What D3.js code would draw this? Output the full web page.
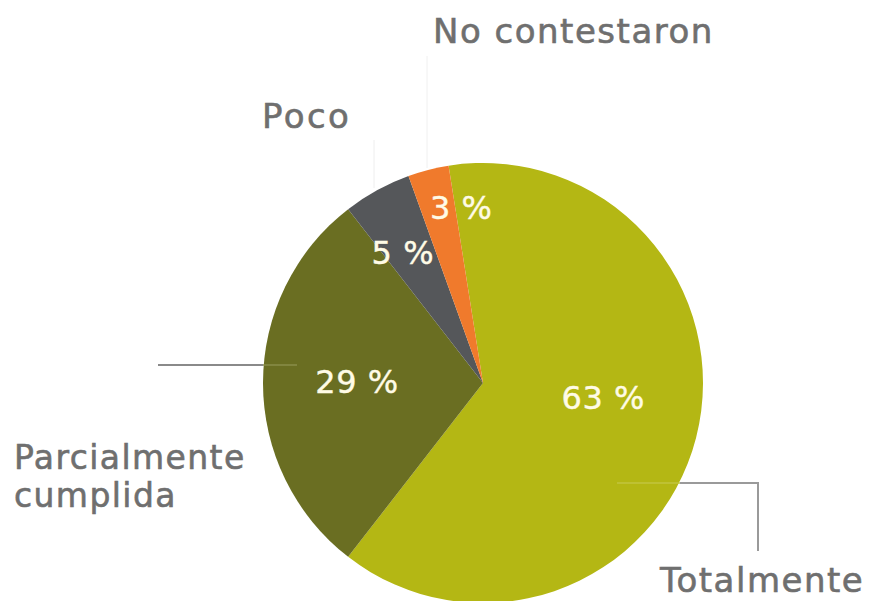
<!DOCTYPE html>
<html>
<head>
<meta charset="utf-8">
<script src="https://cdnjs.cloudflare.com/ajax/libs/d3/7.8.5/d3.min.js"></script>
<style>
  body { margin: 0; background: #fff; }
  svg text { font-family: "DejaVu Sans", sans-serif; }
</style>
</head>
<body>
<svg id="chart"></svg>
<script>
var categories = ["Totalmente", "Parcialmente cumplida", "Poco", "No contestaron"];
var values = [63, 29, 5, 3];
var valueLabels = ["63 %", "29 %", "5 %", "3 %"];
var colors = ["#b4b714", "#6a6e22", "#55575a", "#f07a2c"];

var width = 869, height = 601;
var cx = 483, cy = 383, radius = 220;
var deg = Math.PI / 180;

var svg = d3.select("#chart")
  .attr("width", width)
  .attr("height", height);

// faint guide lines
svg.append("line").attr("x1", 427).attr("y1", 56).attr("x2", 427).attr("y2", 168)
  .attr("stroke", "#f0f0f0").attr("stroke-width", 1);
svg.append("line").attr("x1", 374).attr("y1", 140).attr("x2", 374).attr("y2", 188)
  .attr("stroke", "#eeeeee").attr("stroke-width", 1);

var pie = d3.pie()
  .sort(null)
  .startAngle(-9 * deg)
  .endAngle(351 * deg);

var arcs = pie(values);
var arc = d3.arc().innerRadius(0).outerRadius(radius);

var g = svg.append("g")
  .attr("transform", "translate(" + cx + "," + cy + ")");

g.selectAll("path")
  .data(arcs)
  .enter()
  .append("path")
  .attr("d", arc)
  .attr("fill", function(d, i){ return colors[i]; });

// leader lines
var line = d3.line();
svg.append("path")
  .attr("d", line([[158, 365], [263, 365]]))
  .attr("fill", "none").attr("stroke", "#8a8a8a").attr("stroke-width", 2);
svg.append("path")
  .attr("d", line([[263, 365], [297, 365]]))
  .attr("fill", "none").attr("stroke", "#8a8e4a").attr("stroke-width", 1.5);
svg.append("path")
  .attr("d", line([[617, 483], [680, 483]]))
  .attr("fill", "none").attr("stroke", "#c2c43e").attr("stroke-width", 1.5);
svg.append("path")
  .attr("d", line([[680, 483], [758, 483], [758, 551]]))
  .attr("fill", "none").attr("stroke", "#9a9a9a").attr("stroke-width", 2);

// value labels inside the pie (angle nudge in degrees, radius)
var labelPlace = [[-7.7, 121], [0.9, 126], [-2.8, 153], [7.3, 177]];
g.selectAll("text.val")
  .data(arcs)
  .enter()
  .append("text")
  .attr("class", "val")
  .attr("transform", function(d, i){
    var a = (d.startAngle + d.endAngle) / 2 + labelPlace[i][0] * deg;
    var r = labelPlace[i][1];
    return "translate(" + (r * Math.sin(a)) + "," + (-r * Math.cos(a)) + ")";
  })
  .attr("text-anchor", "middle")
  .attr("dy", "0.36em")
  .attr("font-size", 32)
  .attr("letter-spacing", 0.5)
  .attr("fill", "#fffbe6")
  .attr("stroke", "#fffbe6").attr("stroke-width", 0.4)
  .text(function(d, i){ return valueLabels[i]; });

// category labels
var labelColor = "#6f6f6f";
function catLabel(x, y, txt) {
  return svg.append("text").attr("x", x).attr("y", y)
    .attr("font-size", 34).attr("letter-spacing", 1.5)
    .attr("fill", labelColor)
    .attr("stroke", labelColor).attr("stroke-width", 0.6)
    .text(txt);
}
catLabel(433, 43, categories[3]);
catLabel(262, 128, categories[2]).attr("letter-spacing", 2.4);

var parts = categories[1].split(" ");
catLabel(14, 469, parts[0]).attr("font-size", 33).attr("letter-spacing", 1.4);
catLabel(14, 507, parts[1]).attr("font-size", 33).attr("letter-spacing", 1.4);

catLabel(660, 592, categories[0]);
</script>
</body>
</html>
